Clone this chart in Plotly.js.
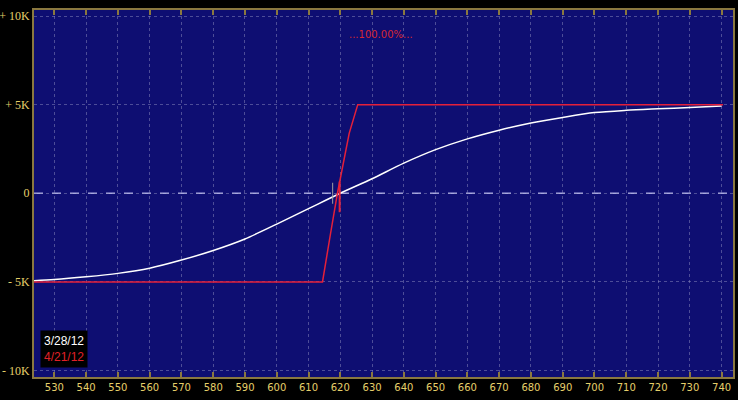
<!DOCTYPE html>
<html><head><meta charset="utf-8">
<script src="https://cdn.plot.ly/plotly-3.0.1.min.js"></script>
<style>html,body{margin:0;padding:0;background:#000;}#chart{width:738px;height:400px;}</style>
</head><body><div id="chart"></div>
<script>
// White curve (3/28/12)
var curveX = [523.6, 530, 540, 550, 560, 570, 580, 590, 600, 610, 620, 630, 640, 650, 660, 670, 680, 690, 700, 710, 720, 730, 740];
var curveY = [-4930, -4870, -4715, -4520, -4230, -3770, -3230, -2580, -1740, -870, 0, 820, 1700, 2460, 3070, 3560, 3970, 4280, 4550, 4680, 4765, 4840, 4920];
// Red expiry line (4/21/12)
var expiryX = [523.6, 614.4, 617, 619.1, 622.8, 624.5, 625.5, 740.5];
var expiryY = [-5000, -5000, -2200, 0, 3380, 4500, 5000, 5000];
// markers near current price
var priceMarkX = [617.6];
var priceMarkY = [0];
var redMarkX = [619.8];
var redMarkY = [-200];
// ticks
var xTicks = [530,540,550,560,570,580,590,600,610,620,630,640,650,660,670,680,690,700,710,720,730,740];
var yTickVals = [-10000, -5000, 0, 5000, 10000];
var yTickText = ['- 10K', '- 5K', '0', '+ 5K', '+ 10K'];
var seriesLabels = ['3/28/12', '4/21/12'];
var probText = '...100.00%...';

var traces = [
  {x: curveX, y: curveY, mode: 'lines', line: {color: '#ffffff', width: 1.5, shape: 'spline', smoothing: 0.8}, hoverinfo: 'none'},
  {x: expiryX, y: expiryY, mode: 'lines', line: {color: '#e4203a', width: 1.5}, hoverinfo: 'none'},
  {x: priceMarkX, y: priceMarkY, mode: 'markers', marker: {symbol: 'line-ns', size: 15, line: {color: '#a0a0a0', width: 1}}, hoverinfo: 'none'},
  {x: redMarkX, y: redMarkY, mode: 'markers', marker: {symbol: 'line-ns', size: 22, line: {color: '#e4203a', width: 2}}, hoverinfo: 'none'}
];

var axisCol = '#8a7840';
var layout = {
  width: 738, height: 400,
  paper_bgcolor: '#000000', plot_bgcolor: '#0e0e72',
  margin: {l: 34, r: 5, t: 10, b: 23, pad: 0},
  showlegend: false,
  xaxis: {
    range: [523.6, 743.6], tickvals: xTicks, ticks: 'inside', ticklen: 5, tickcolor: axisCol, tickwidth: 2,
    showline: true, linecolor: axisCol, linewidth: 2, mirror: 'ticks',
    showgrid: true, gridcolor: 'rgba(140,140,190,0.5)', griddash: 'dot', gridwidth: 1,
    zeroline: false, tickfont: {family: 'DejaVu Sans', size: 10, color: '#e6cf6a'}
  },
  yaxis: {
    range: [-10367, 10340], tickvals: yTickVals, ticktext: yTickText, ticks: '',
    showline: true, linecolor: axisCol, linewidth: 2, mirror: true,
    showgrid: true, gridcolor: 'rgba(140,140,190,0.5)', griddash: 'dot', gridwidth: 1,
    zeroline: false, tickfont: {family: 'Liberation Serif', size: 12, color: '#e6cf6a'}
  },
  shapes: [
    {type: 'line', xref: 'paper', x0: 0, x1: 1, yref: 'y', y0: 0, y1: 0, line: {color: '#a8a8e0', width: 1.5, dash: 'dash'}, layer: 'below'}
  ],
  annotations: [
    {xref: 'paper', yref: 'paper', x: 0.497, y: 0.932, xanchor: 'center', yanchor: 'middle', text: probText, showarrow: false, font: {family: 'DejaVu Sans', size: 10, color: '#d82830'}},
    {xref: 'paper', yref: 'paper', x: 0.0086, y: 0.025, xanchor: 'left', yanchor: 'bottom', align: 'left',
     text: seriesLabels[0] + '<br><span style="color:#e02028">' + seriesLabels[1] + '</span>',
     showarrow: false, bgcolor: '#000000', borderpad: 3,
     font: {family: 'Liberation Sans', size: 12, color: '#ffffff'}}
  ]
};
Plotly.newPlot('chart', traces, layout, {staticPlot: true, displayModeBar: false});
</script></body></html>
